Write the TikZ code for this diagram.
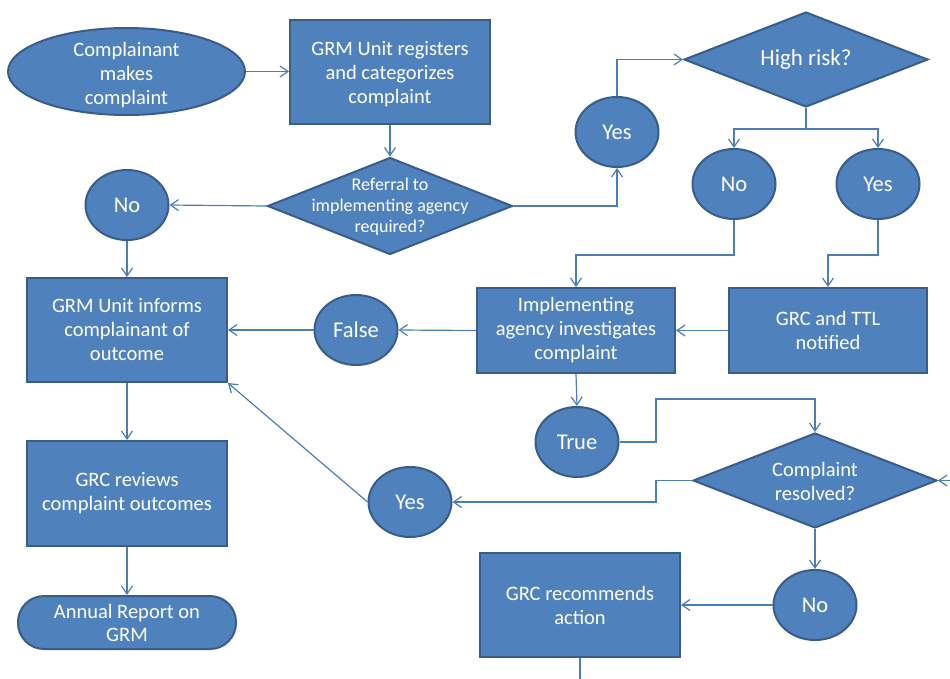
\documentclass[tikz,border=0pt]{standalone}
\usepackage{fontspec}
\setmainfont{Carlito}
\usetikzlibrary{shapes.geometric,arrows.meta,calc}
\definecolor{fillc}{HTML}{4F81BD}
\definecolor{bordc}{HTML}{385D8A}
\definecolor{linec}{HTML}{4A7EBB}
\tikzset{
  base/.style={draw=bordc,line width=2pt,fill=fillc,text=white,align=center,inner sep=0pt},
  box/.style={base,rectangle,minimum width=200pt,minimum height=104pt,font=\fontsize{20.5}{24}\selectfont},
  circ/.style={base,ellipse,minimum width=83pt,minimum height=70pt,font=\fontsize{22.5}{26}\selectfont},
  dia/.style={base,diamond,minimum width=244pt,minimum height=95pt},
  dtext/.style={text=white,align=center,inner sep=0pt},
  conn/.style={draw=linec,line width=1.2pt},
  arr/.style={conn,-{Straight Barb[length=8pt,width=11pt,line width=1.2pt]}},
}
\begin{document}
\begin{tikzpicture}[x=1pt,y=-1pt]
\useasboundingbox (0,0) rectangle (950,678);
% nodes
\node[base,ellipse,minimum width=237pt,minimum height=87pt] (e1) at (126.5,71.5) {};
\node[dtext,font=\fontsize{20.5}{24}\selectfont] (e1t) at (126.5,75) {Complainant\\makes\\complaint};
\node[base,rectangle,minimum width=200pt,minimum height=104pt] (r1) at (390,72) {};
\node[dtext,font=\fontsize{20.5}{24}\selectfont] (r1t) at (390,74.5) {GRM Unit registers\\and categorizes\\complaint};
\node[dia,minimum width=245pt,minimum height=97pt] (d1) at (390,206) {};
\node[dtext,font=\fontsize{18}{21}\selectfont] (d1t) at (390,207) {Referral to\\implementing agency\\required?};
\node[circ] (no1) at (127,205) {No};
\node[circ] (yes1) at (617,132) {Yes};
\node[dia] (d2) at (806,59.5) {};
\node[dtext,font=\fontsize{23}{27}\selectfont] (d2t) at (806,59.5) {High risk?};
\node[circ] (no2) at (734,184) {No};
\node[circ] (yes2) at (878,184) {Yes};
\node[box,minimum width=198pt,minimum height=85pt] (r2) at (576,330.5) {Implementing\\agency investigates\\complaint};
\node[box,minimum width=198pt,minimum height=85pt] (r3) at (828,330.5) {GRC and TTL\\notified};
\node[circ] (f1) at (356,330) {False};
\node[box] (r4) at (127,330) {GRM Unit informs\\complainant of\\outcome};
\node[box,minimum height=105pt] (r5) at (127,493.5) {GRC reviews\\complaint outcomes};
\node[base,rectangle,rounded corners=26pt,minimum width=218pt,minimum height=53pt,font=\fontsize{20.5}{23}\selectfont] (a1) at (127,622.5) {Annual Report on\\GRM};
\node[circ] (yes3) at (410,502) {Yes};
\node[circ] (t1) at (577,442) {True};
\node[dia] (d3) at (815,480.5) {};
\node[dtext,font=\fontsize{20.5}{24}\selectfont] (d3t) at (815,481.5) {Complaint\\resolved?};
\node[circ] (no3) at (815,605) {No};
\node[box] (r6) at (580,605) {GRC recommends\\action};
% helper coordinates
\coordinate (c1) at (656,399);
\coordinate (c2) at (656,502);
\coordinate (c3) at (956,480.5);
\coordinate (c4) at (580,682);
% connectors
\draw[arr] (e1.east) -- (r1.west |- e1.east);
\draw[arr] (r1.south) -- (d1.north);
\draw[arr] (d1.west) -- (no1.east);
\draw[arr] (d1.east) -| (yes1.south);
\draw[arr] (yes1.north) |- (d2.west);
\draw[arr] (d2.south) -- ++(0,21) -| (no2.north);
\draw[arr] (d2.south) -- ++(0,21) -| (yes2.north);
\draw[arr] (no2.south) -- ++(0,35) -| (r2.north);
\draw[arr] (yes2.south) -- ++(0,35) -| (r3.north);
\draw[arr] (r3.west) -- (r2.east);
\draw[arr] (r2.west) -- (f1.east);
\draw[arr] (f1.west) -- (r4.east);
\draw[arr] (no1.south) -- (r4.north);
\draw[arr] (r4.south) -- (r5.north);
\draw[arr] (r5.south) -- (a1.north);
\draw[arr] (yes3.west) -- (r4.south east);
\draw[arr] (r2.south) -- (t1.north);
\draw[arr] (t1.east) -| (c1) -| (d3.north);
\draw[arr] (d3.west) -| (c2) -- (yes3.east);
\draw[arr] (c3) -- (d3.east);
\draw[arr] (d3.south) -- (no3.north);
\draw[arr] (no3.west) -- (r6.east);
\draw[conn] (r6.south) -- (c4);
\end{tikzpicture}
\end{document}
